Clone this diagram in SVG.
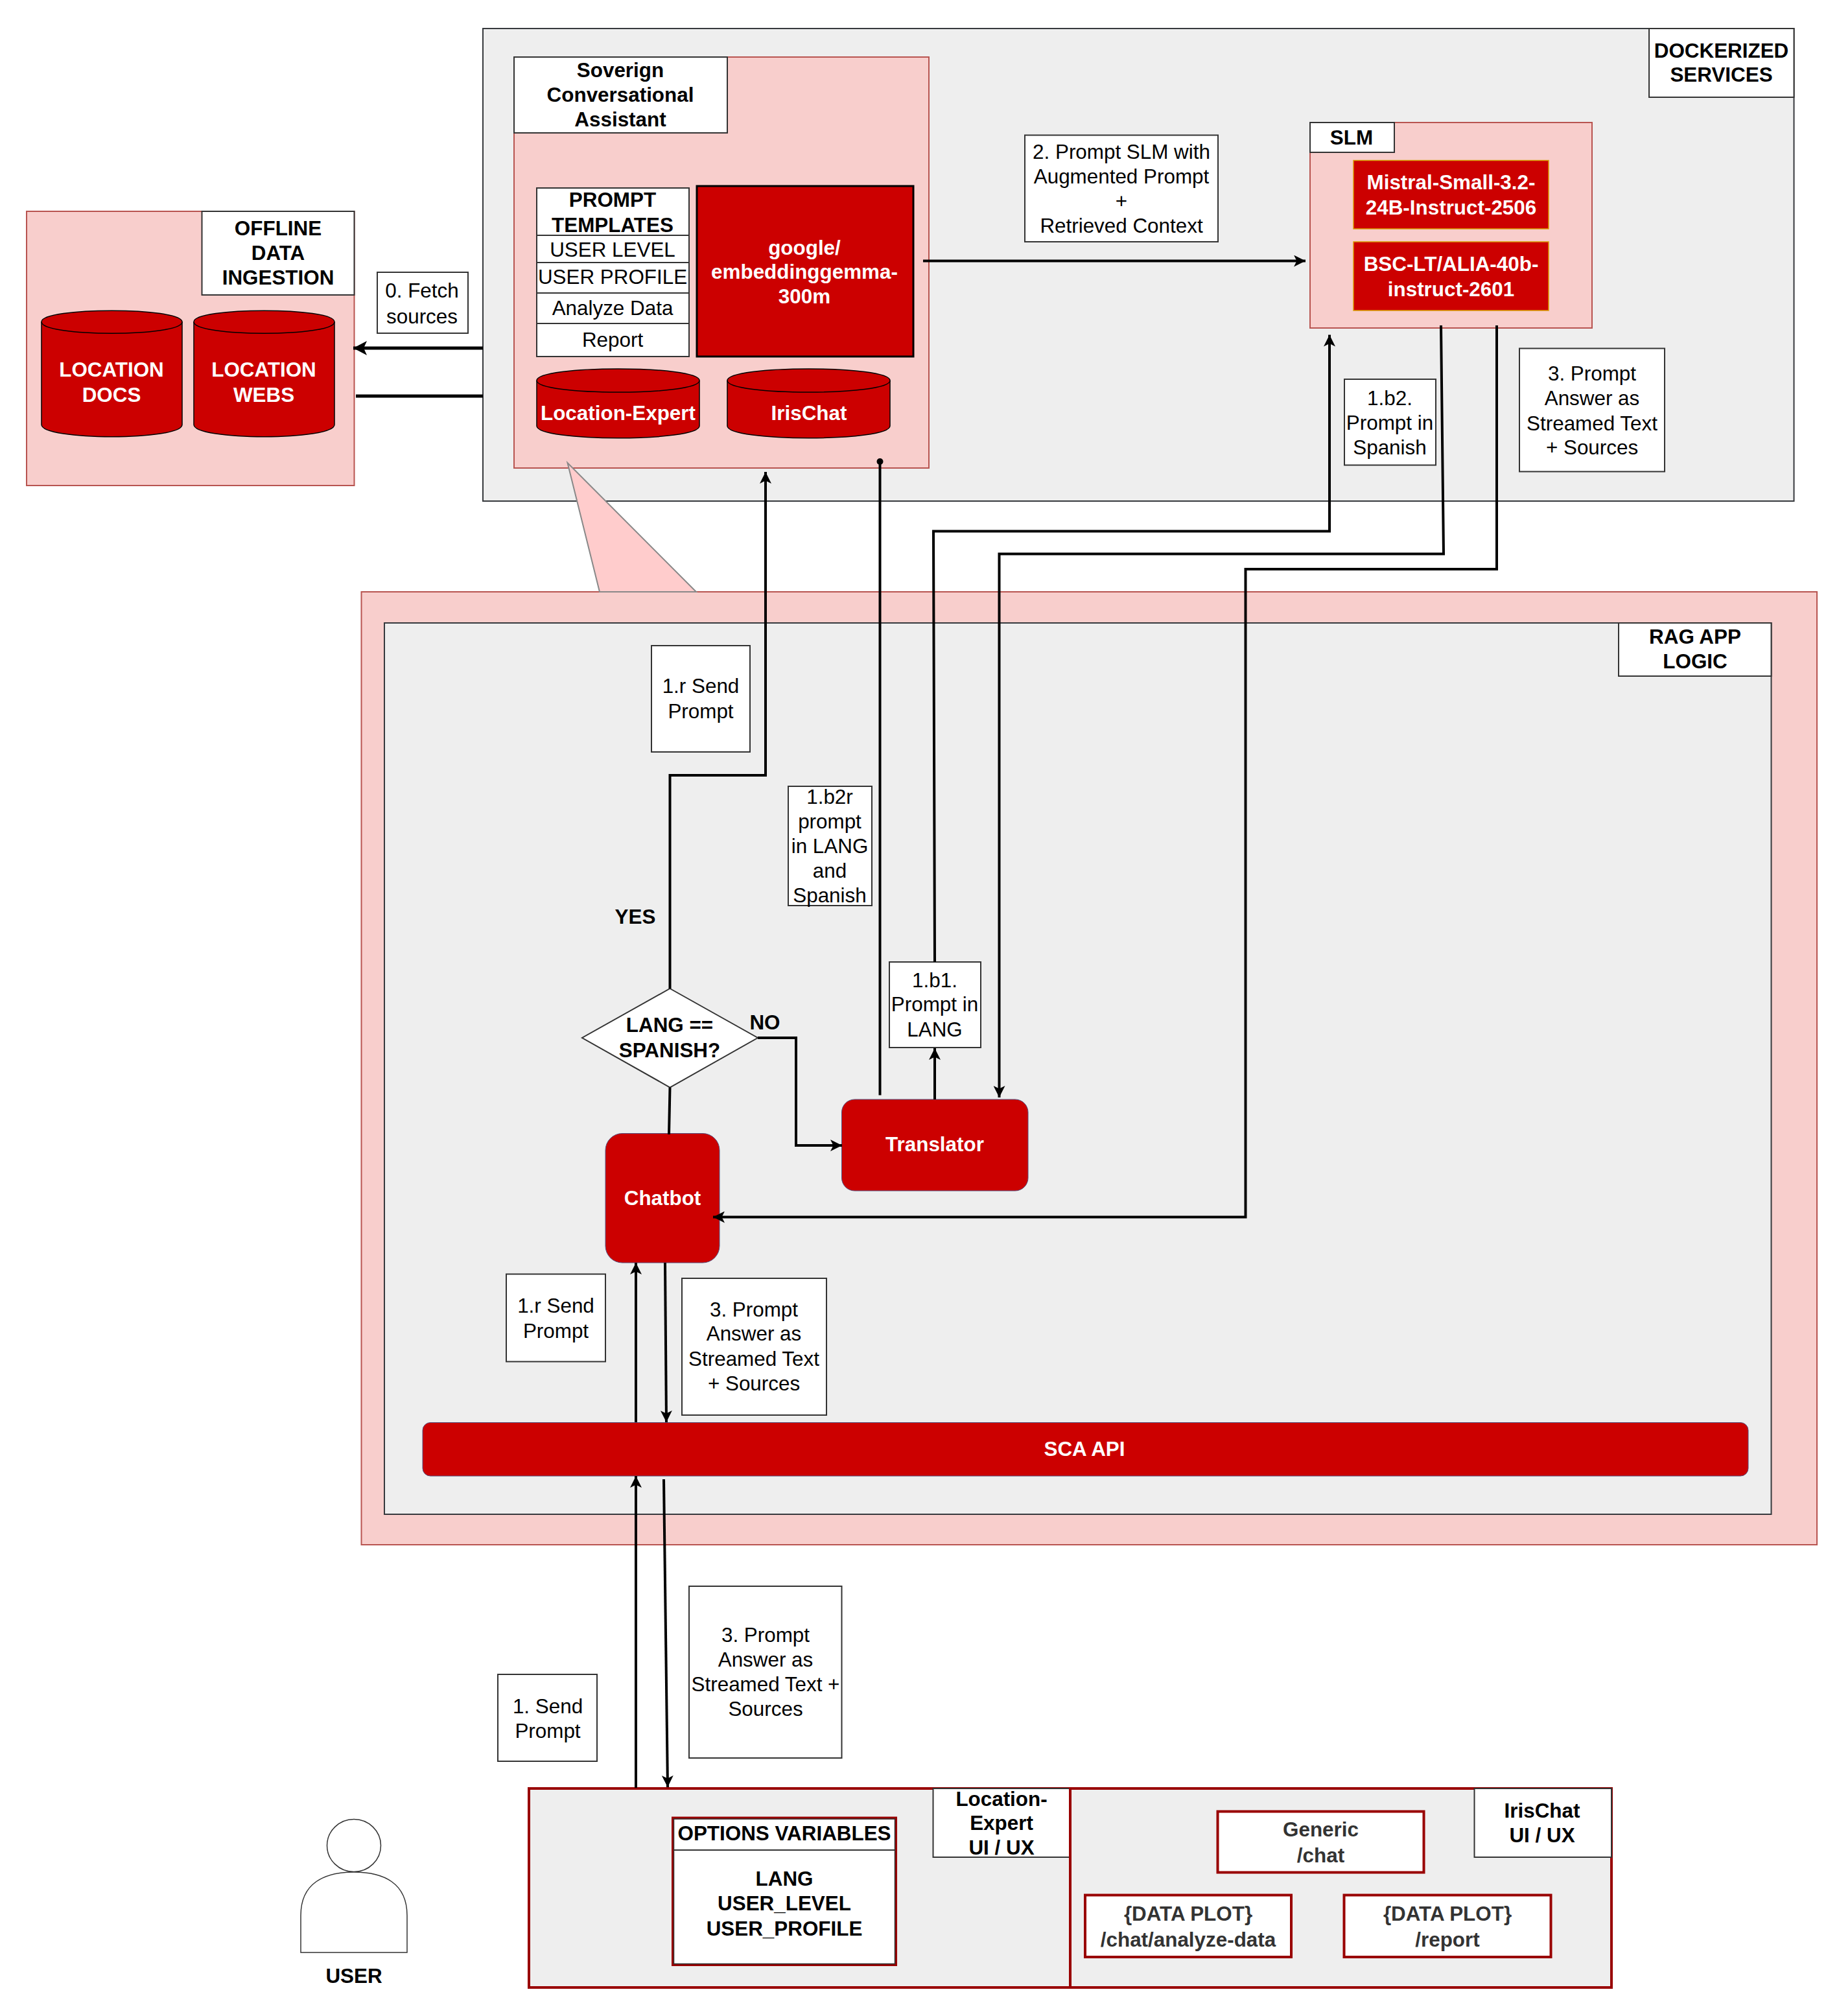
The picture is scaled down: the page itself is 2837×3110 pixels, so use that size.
<svg xmlns="http://www.w3.org/2000/svg" width="2837" height="3110" viewBox="0 0 2837 3110">
<style>
text{font-family:"Liberation Sans",Arial,sans-serif;font-size:31.4px;text-anchor:middle;fill:#000}
.b{font-weight:bold}
.w{font-weight:bold;fill:#fff}
.d{font-weight:bold;fill:#333}
.pink{fill:#f8cecc;stroke:#b85450;stroke-width:2}
.grey{fill:#eee;stroke:#36393d;stroke-width:2}
.label{fill:#fff;stroke:#333;stroke-width:2}
.red{fill:#c00;stroke:#000;stroke-width:1.5}
.line{fill:none;stroke:#000;stroke-width:1.5}
.redo{fill:#c00;stroke:#d79b00;stroke-width:1.5}
.redp{fill:#c00;stroke:#56517e;stroke-width:1}
.ui{fill:#eee;stroke:#900;stroke-width:4}
.opt{fill:#fff;stroke:#900;stroke-width:4}
.cl{fill:none;stroke:#000;stroke-width:4;stroke-linejoin:miter}
</style>
<defs>
<marker id="arr" markerUnits="userSpaceOnUse" viewBox="0 0 18 18" refX="18" refY="9" markerWidth="18" markerHeight="18" orient="auto"><path d="M0 0L18 9L0 18L4.500 9Z" fill="#000"/></marker>
<marker id="arrL" markerUnits="userSpaceOnUse" viewBox="0 0 21 22" refX="21" refY="11" markerWidth="21" markerHeight="22" orient="auto"><path d="M0 0L21 11L0 22L5 11Z" fill="#000"/></marker>
<marker id="dot" markerUnits="userSpaceOnUse" viewBox="0 0 12 12" refX="6" refY="6" markerWidth="12" markerHeight="12" orient="auto"><circle cx="6" cy="6" r="5" fill="#000"/></marker>
</defs>
<rect width="2837" height="3110" fill="#fff"/>

<g id="offline">
<rect class="pink" x="41" y="326" width="505.500" height="423"/>
<rect class="label" x="311.500" y="326" width="235" height="129"/>
<text class="b" x="429" y="363">OFFLINE</text><text class="b" x="429" y="401">DATA</text><text class="b" x="429" y="439">INGESTION</text>
<path class="red" d="M64 496.500C64 473.500 281 473.500 281 496.500V655C281 680 64 680 64 655Z"/><path class="line" d="M64 496.500C64 520 281 520 281 496.500"/>
<text class="w" x="172" y="581">LOCATION</text><text class="w" x="172" y="620">DOCS</text>
<path class="red" d="M299 496.500C299 473.500 516 473.500 516 496.500V655C516 680 299 680 299 655Z"/><path class="line" d="M299 496.500C299 520 516 520 516 496.500"/>
<text class="w" x="407" y="581">LOCATION</text><text class="w" x="407" y="620">WEBS</text>
</g>
<g id="fetch-label"><rect class="label" x="582" y="420" width="140" height="94"/><text x="651" y="459">0. Fetch</text><text x="651" y="499">sources</text></g>

<g id="dockerized">
<rect class="grey" x="745" y="44" width="2022.500" height="729"/>
<rect class="label" x="2544" y="44" width="223.500" height="106"/>
<text class="b" x="2655.500" y="89">DOCKERIZED</text><text class="b" x="2655.500" y="126">SERVICES</text>
</g>

<g id="sca">
<rect class="pink" x="793" y="88" width="640" height="634"/>
<rect class="label" x="793" y="88" width="329" height="117"/>
<text class="b" x="957" y="119">Soverign</text><text class="b" x="957" y="157">Conversational</text><text class="b" x="957" y="195">Assistant</text>
</g>
<g id="templates">
<rect class="label" x="828" y="290" width="235" height="73"/><rect class="label" x="828" y="363" width="235" height="42"/><rect class="label" x="828" y="405" width="235" height="47"/><rect class="label" x="828" y="452" width="235" height="47"/><rect class="label" x="828" y="499" width="235" height="51"/>
<text class="b" x="945" y="319">PROMPT</text><text class="b" x="945" y="358">TEMPLATES</text>
<text x="945" y="396">USER LEVEL</text><text x="945" y="438">USER PROFILE</text><text x="945" y="486">Analyze Data</text><text x="945" y="535">Report</text>
</g>
<g id="embedding"><rect x="1075" y="287" width="334" height="263" fill="#c00" stroke="#000" stroke-width="3"/>
<text class="w" x="1241" y="393">google/</text><text class="w" x="1241" y="430">embeddinggemma-</text><text class="w" x="1241" y="468">300m</text></g>
<g id="location-expert-db"><path class="red" d="M828 587C828 563 1079 563 1079 587V657C1079 682 828 682 828 657Z"/><path class="line" d="M828 587C828 611 1079 611 1079 587"/><text class="w" x="953.500" y="648">Location-Expert</text></g>
<g id="irischat-db"><path class="red" d="M1122 587C1122 563 1373 563 1373 587V657C1373 682 1122 682 1122 657Z"/><path class="line" d="M1122 587C1122 611 1373 611 1373 587"/><text class="w" x="1248" y="648">IrisChat</text></g>

<g id="prompt-slm-label"><rect class="label" x="1581" y="208.500" width="298" height="164.500"/><text x="1730" y="245">2. Prompt SLM with</text><text x="1730" y="283">Augmented Prompt</text><text x="1730" y="321">+</text><text x="1730" y="359">Retrieved Context</text></g>
<g id="slm">
<rect class="pink" x="2021" y="189" width="435" height="317"/>
<rect class="label" x="2021" y="189" width="130" height="46"/><text class="b" x="2085" y="223">SLM</text>
<rect class="redo" x="2088" y="247.500" width="301" height="105.500"/><text class="w" x="2238.500" y="292">Mistral-Small-3.2-</text><text class="w" x="2238.500" y="330.500">24B-Instruct-2506</text>
<rect class="redo" x="2088" y="373" width="301" height="106"/><text class="w" x="2238.500" y="418">BSC-LT/ALIA-40b-</text><text class="w" x="2238.500" y="457">instruct-2601</text>
</g>
<g id="b2-label"><rect class="label" x="2074" y="585" width="141" height="132.500"/><text x="2144" y="624.500">1.b2.</text><text x="2144" y="663">Prompt in</text><text x="2144" y="701">Spanish</text></g>
<g id="answer-label-top"><rect class="label" x="2344" y="537.500" width="224" height="190"/><text x="2456" y="587">3. Prompt</text><text x="2456" y="624.500">Answer as</text><text x="2456" y="663.500">Streamed Text</text><text x="2456" y="701">+ Sources</text></g>

<g id="rag">
<rect class="pink" x="557.500" y="913" width="2245.500" height="1470"/>
<rect class="grey" x="593" y="961" width="2139.500" height="1375"/>
<rect class="label" x="2497" y="961" width="235.500" height="82"/>
<text class="b" x="2615" y="993">RAG APP</text><text class="b" x="2615" y="1031">LOGIC</text>
</g>
<g id="callout"><path d="M875.500 714L925 913H1074Z" fill="#fcc" stroke="#888" stroke-width="2"/></g>
<g id="send-label-top"><rect class="label" x="1005" y="996" width="152" height="164"/><text x="1081" y="1068.500">1.r Send</text><text x="1081" y="1108">Prompt</text></g>
<g id="b2r-label"><rect class="label" x="1216" y="1213" width="129" height="184"/><text x="1280" y="1240">1.b2r</text><text x="1280" y="1278">prompt</text><text x="1280" y="1316">in LANG</text><text x="1280" y="1354">and</text><text x="1280" y="1392">Spanish</text></g>
<g id="b1-label"><rect class="label" x="1372" y="1484" width="141" height="132"/><text x="1442" y="1523">1.b1.</text><text x="1442" y="1560">Prompt in</text><text x="1442" y="1599">LANG</text></g>
<g id="decision"><path d="M1033.500 1525L1169 1601L1033.500 1677.500L898 1601Z" fill="#fff" stroke="#333" stroke-width="2"/><text class="b" x="1033" y="1592">LANG ==</text><text class="b" x="1033" y="1631">SPANISH?</text></g>
<text class="b" x="980" y="1424.500">YES</text><text class="b" x="1180" y="1588">NO</text>
<g id="translator"><rect class="redp" x="1298.500" y="1696" width="287.500" height="141" rx="20"/><text class="w" x="1442" y="1776">Translator</text></g>
<g id="chatbot"><rect class="redp" x="934" y="1748.500" width="176" height="199.500" rx="26"/><text class="w" x="1022" y="1859">Chatbot</text></g>
<g id="send-label-mid"><rect class="label" x="781" y="1965.500" width="153" height="135"/><text x="857.500" y="2025">1.r Send</text><text x="857.500" y="2064">Prompt</text></g>
<g id="answer-label-mid"><rect class="label" x="1052" y="1972" width="223" height="211"/><text x="1163" y="2030.500">3. Prompt</text><text x="1163" y="2068">Answer as</text><text x="1163" y="2107">Streamed Text</text><text x="1163" y="2145">+ Sources</text></g>
<g id="sca-api"><rect class="redp" x="652" y="2194.500" width="2045" height="82.500" rx="12"/><text class="w" x="1673" y="2246">SCA API</text></g>

<g id="answer-label-low"><rect class="label" x="1063" y="2447" width="235.500" height="265"/><text x="1181" y="2533">3. Prompt</text><text x="1181" y="2571">Answer as</text><text x="1181" y="2609">Streamed Text +</text><text x="1181" y="2647">Sources</text></g>
<g id="send-label-low"><rect class="label" x="768" y="2583" width="153" height="134"/><text x="845" y="2642.500">1. Send</text><text x="845" y="2681">Prompt</text></g>

<g id="location-expert-ui">
<rect class="ui" x="816" y="2759" width="835" height="307"/>
<rect class="label" x="1439.500" y="2759" width="211.500" height="106"/>
<text class="b" x="1545" y="2786">Location-</text><text class="b" x="1545" y="2823">Expert</text><text class="b" x="1545" y="2861">UI / UX</text>
<rect class="opt" x="1038" y="2804.500" width="344" height="226.500"/><rect x="1039.500" y="2806" width="341" height="223.500" fill="none" stroke="#333" stroke-width="1.500"/><path d="M1039 2854H1381" stroke="#333" stroke-width="2" fill="none"/>
<text class="b" x="1210" y="2839">OPTIONS VARIABLES</text><text class="b" x="1210" y="2909">LANG</text><text class="b" x="1210" y="2947">USER_LEVEL</text><text class="b" x="1210" y="2986">USER_PROFILE</text>
</g>
<g id="irischat-ui">
<rect class="ui" x="1651" y="2759" width="835" height="307"/>
<rect class="label" x="2274.500" y="2759" width="211.500" height="106"/>
<text class="b" x="2379" y="2803.500">IrisChat</text><text class="b" x="2379" y="2842">UI / UX</text>
<rect class="opt" x="1878.500" y="2794.500" width="318" height="94"/><text class="d" x="2037.500" y="2833">Generic</text><text class="d" x="2037.500" y="2872.500">/chat</text>
<rect class="opt" x="1674" y="2923.500" width="318" height="95.500"/><text class="d" x="1833" y="2963">{DATA PLOT}</text><text class="d" x="1833" y="3003">/chat/analyze-data</text>
<rect class="opt" x="2073.500" y="2923.500" width="319" height="95.500"/><text class="d" x="2233" y="2963">{DATA PLOT}</text><text class="d" x="2233" y="3003">/report</text>
</g>
<g id="user">
<ellipse cx="546" cy="2847" rx="41.500" ry="40.500" fill="#fff" stroke="#333" stroke-width="1.500"/>
<path d="M464 3012V2955C464 2905 500 2888 546 2888C592 2888 628 2905 628 2955V3012Z" fill="#fff" stroke="#333" stroke-width="1.500"/>
<text class="b" x="546" y="3059">USER</text>
</g>

<g id="connectors" class="cl">
<path class="cl" d="M745 537H545" marker-end="url(#arrL)" style="stroke-width:5"/>
<path class="cl" d="M745 611H549" style="stroke-width:5"/>
<path class="cl" d="M1424 402.500H2014" marker-end="url(#arr)"/>
<path class="cl" d="M1033.500 1525V1196H1181V728" marker-end="url(#arr)"/>
<path class="cl" d="M1357.500 1689.500V712" marker-end="url(#dot)"/>
<path class="cl" d="M1442 1484L1440 819.500H2051V516.500" marker-end="url(#arr)"/>
<path class="cl" d="M2223 502L2227 854.500H1541.500V1693" marker-end="url(#arr)"/>
<path class="cl" d="M2309 502V878H1921.500V1877.500H1100" marker-end="url(#arr)"/>
<path class="cl" d="M1442 1696V1617" marker-end="url(#arr)"/>
<path class="cl" d="M1169 1601H1228V1767H1299" marker-end="url(#arr)"/>
<path class="cl" d="M1033.500 1677.500L1032 1750"/>
<path class="cl" d="M981 2194V1948" marker-end="url(#arr)"/>
<path class="cl" d="M1026 1948L1028 2194" marker-end="url(#arr)"/>
<path class="cl" d="M981 2758V2277" marker-end="url(#arr)"/>
<path class="cl" d="M1024 2282L1030 2757" marker-end="url(#arr)"/>
</g>
</svg>
